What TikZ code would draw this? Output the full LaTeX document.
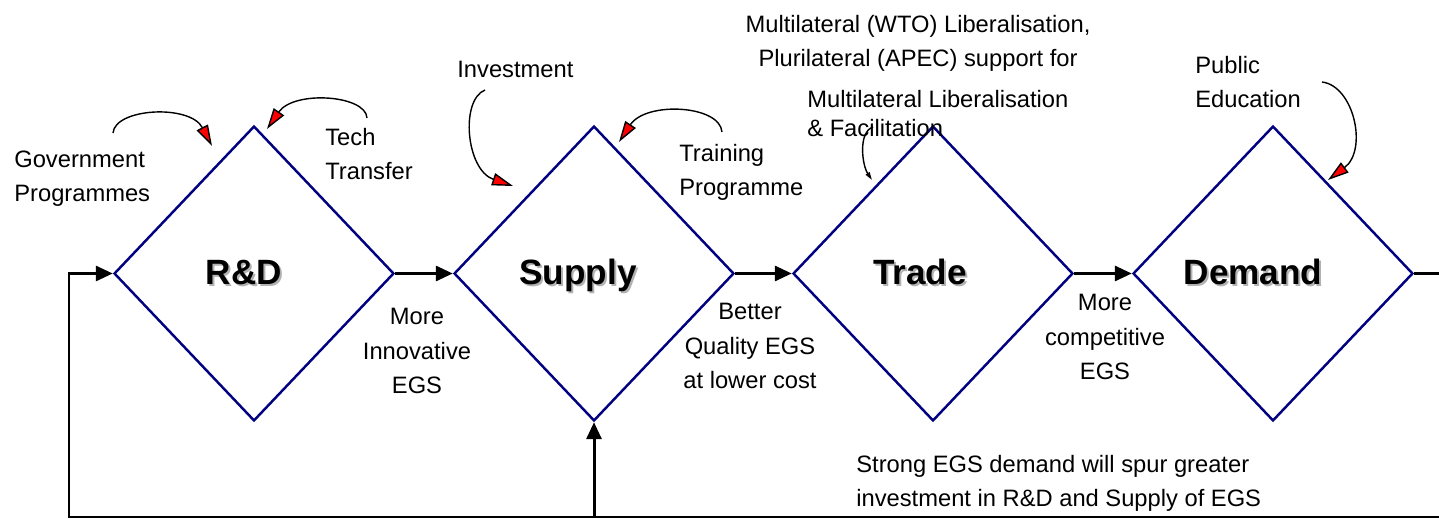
\documentclass[tikz,border=0pt]{standalone}
\usepackage{fontspec}
\setmainfont{Liberation Sans}
\usetikzlibrary{shapes.geometric,arrows.meta}
\definecolor{navy}{RGB}{0,0,128}

\tikzset{
  stage/.style={shape=diamond, draw=navy, line width=1.4pt, minimum width=5.6cm, minimum height=5.9cm, inner sep=0pt},
  tag/.style={font=\fontsize{20}{24}\selectfont\bfseries, anchor=base, inner sep=0pt},
  note/.style={font=\fontsize{13.5}{19.9}\selectfont, inner sep=0pt},
  flow/.style={line width=1.7pt, -{Triangle[length=0.34cm,width=0.3cm]}},
  feed/.style={line width=0.8pt, -{Triangle[length=0.42cm,width=0.25cm,fill=red]}},
}

\begin{document}
\begin{tikzpicture}[x=0.02cm, y=-0.02cm]
        \useasboundingbox (0,0) rectangle (1439,519);

        % the four stages
        \node[stage] (rd) at (254,273.5) {};
        \node[stage] (sup) at (594,273.5) {};
        \node[stage] (trd) at (933,273.5) {};
        \node[stage] (dem) at (1273,273.5) {};

        \node[tag, gray!60] (rd-s) at (246,287) {R\&D};
        \node[tag] (rd-t) at (244,285) {R\&D};
        \node[tag, gray!60] (sup-s) at (580,287) {Supply};
        \node[tag] (sup-t) at (578,285) {Supply};
        \node[tag, gray!60] (trd-s) at (922,287) {Trade};
        \node[tag] (trd-t) at (920,285) {Trade};
        \node[tag, gray!60] (dem-s) at (1255,287) {Demand};
        \node[tag] (dem-t) at (1253,285) {Demand};

        % main flow and feedback loop
        \draw[flow] (rd.east) -- (sup.west);
        \draw[flow] (sup.east) -- (trd.west);
        \draw[flow] (trd.east) -- (dem.west);
        \coordinate (loopR) at (1470,517);
        \coordinate (loopL) at (69,517);
        \draw[flow] (dem.east) -| (loopR) -- (loopL) |- (rd.west);
        \draw[flow] (loopL -| sup.south) -- (sup.south);

        % labels (base = last line)
        \node[note, anchor=base west, align=left] (gov) at (14,202) {Government\\Programmes};
        \node[note, anchor=base west, align=left] (tech) at (325,180) {Tech\\Transfer};
        \node[note, anchor=base west] (inv) at (457,78) {Investment};
        \node[note, anchor=base west, align=left] (train) at (679,196) {Training\\Programme};
        \node[note, anchor=base, align=center] (wto) at (918,67) {Multilateral (WTO) Liberalisation,\\Plurilateral (APEC) support for};
        \node[note, anchor=base west, align=left, font=\fontsize{13.5}{17}\selectfont] (fac) at (807,137) {Multilateral Liberalisation\\\& Facilitation};
        \node[note, anchor=base west, align=left] (pub) at (1195,108) {Public\\Education};
        \node[note, anchor=base, align=center] (inno) at (417,394) {More\\Innovative\\EGS};
        \node[note, anchor=base, align=center] (qual) at (750,389) {Better\\Quality EGS\\at lower cost};
        \node[note, anchor=base, align=center] (comp) at (1105,380) {More\\competitive\\EGS};
        \node[note, anchor=base west, align=left] (spur) at (856,507) {Strong EGS demand will spur greater\\investment in R\&D and Supply of EGS};

        % influences
        \coordinate (govA) at (113,133);
        \coordinate (govB) at (212,146);
        \draw[feed] (govA) .. controls (115,108) and (190,104) .. (govB);
        \coordinate (techA) at (367,118);
        \coordinate (techB) at (267,129);
        \draw[feed] (techA) .. controls (366,95) and (294,90) .. (techB);
        \coordinate (invA) at (485,90);
        \coordinate (invB) at (513,186);
        \draw[feed] (invA) .. controls (460,100) and (466,170) .. (invB);
        \coordinate (trainA) at (722,132);
        \coordinate (trainB) at (619,142);
        \draw[feed] (trainA) .. controls (720,105) and (646,101) .. (trainB);
        \coordinate (facA) at (873,127);
        \coordinate (facB) at (872,180);
        \draw[line width=0.8pt, -{Triangle[length=0.16cm,width=0.09cm,fill=red]}] (facA) .. controls (858,132) and (862,165) .. (facB);
        \coordinate (pubA) at (1322,82);
        \coordinate (pubB) at (1328,180);
        \draw[feed] (pubA) .. controls (1354,86) and (1368,150) .. (pubB);

    \end{tikzpicture}
\end{document}
